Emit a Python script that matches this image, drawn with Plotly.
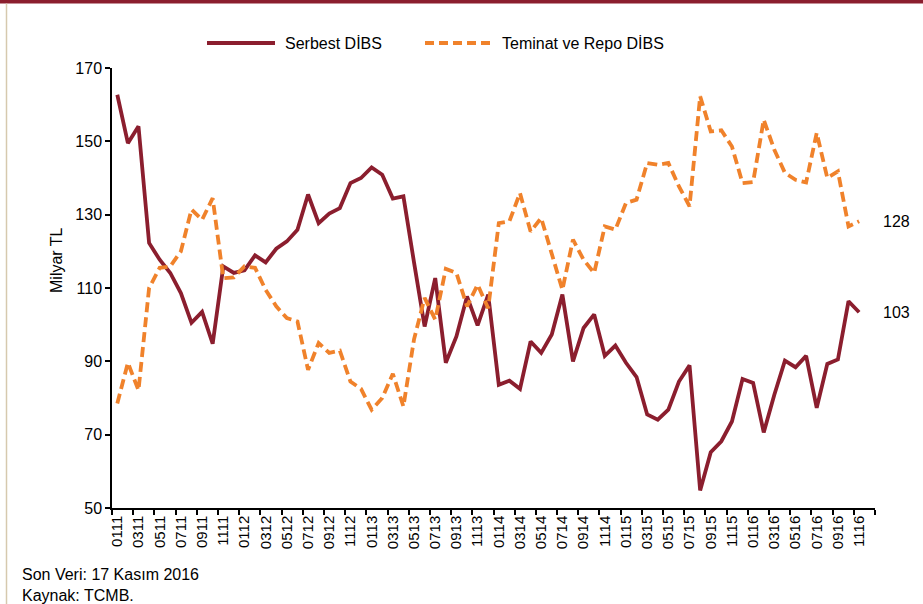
import plotly.graph_objects as go

# ---- data ----
serbest = [162.7, 149.5, 154.1, 122.3, 117.7, 114.1, 108.6, 100.5, 103.5, 94.8,
           115.9, 114.1, 114.8, 118.9, 117.0, 120.7, 122.7, 125.9, 135.5, 127.7,
           130.3, 131.8, 138.6, 140.0, 142.9, 140.9, 134.4, 135.0, 117.0, 99.5,
           112.7, 89.6, 96.8, 107.7, 99.8, 108.2, 83.6, 84.7, 82.5, 95.4,
           92.3, 97.3, 108.2, 90.0, 99.1, 102.8, 91.5, 94.3, 89.6, 85.7,
           75.5, 74.1, 76.8, 84.5, 88.9, 54.8, 65.2, 68.2, 73.6, 85.2,
           84.1, 70.6, 80.9, 90.2, 88.4, 91.5, 77.3, 89.3, 90.5, 106.4,
           103.4]
teminat = [78.5, 89.6, 82.1, 110.0, 115.5, 115.9, 120.0, 131.4, 128.6, 134.5,
           112.7, 112.9, 115.9, 115.5, 109.5, 105.0, 101.8, 100.9, 87.7, 95.0,
           92.3, 92.9, 84.5, 82.5, 76.8, 80.0, 86.6, 77.7, 96.0, 107.3,
           101.4, 115.2, 114.1, 105.0, 110.9, 104.5, 127.7, 128.2, 135.9, 125.4,
           129.1, 119.5, 109.5, 123.2, 117.7, 114.1, 126.8, 125.9, 133.2, 134.1,
           144.1, 143.6, 144.1, 137.7, 132.3, 162.3, 152.7, 153.0, 148.6, 138.6,
           138.9, 155.9, 147.7, 141.4, 139.5, 138.8, 152.3, 140.0, 141.8, 126.8,
           128.2]
tick_labels = ["0111", "0311", "0511", "0711", "0911", "1111",
               "0112", "0312", "0512", "0712", "0912", "1112",
               "0113", "0313", "0513", "0713", "0913", "1113",
               "0114", "0314", "0514", "0714", "0914", "1114",
               "0115", "0315", "0515", "0715", "0915", "1115",
               "0116", "0316", "0516", "0716", "0916", "1116"]
y_ticks = [50, 70, 90, 110, 130, 150, 170]
series_names = ["Serbest DİBS", "Teminat ve Repo DİBS"]

RED = "#8B1E2E"
ORANGE = "#F0822B"
FONT = "Liberation Sans, Arial, sans-serif"

x = list(range(len(serbest)))

fig = go.Figure()
fig.add_trace(go.Scatter(x=x, y=serbest, mode="lines", name=series_names[0],
                         line=dict(color=RED, width=3.8), showlegend=False))
fig.add_trace(go.Scatter(x=x, y=teminat, mode="lines", name=series_names[1],
                         line=dict(color=ORANGE, width=3.8, dash="10px,5px"),
                         showlegend=False))

W, H = 923, 604
L, R, T, B = 112, 48, 68, 96
pw, ph = W - L - R, H - T - B


def px(xp):
    return (xp - L) / pw


def py(yp):
    return (H - B - yp) / ph


shapes = [
    # top band
    dict(type="rect", xref="paper", yref="paper", x0=px(0), x1=px(W),
         y0=py(3.5), y1=py(0), fillcolor=RED, line=dict(width=0), layer="above"),
    # left border
    dict(type="line", xref="paper", yref="paper", x0=px(6.5), x1=px(6.5),
         y0=py(3.5), y1=py(H), line=dict(color="#D6C9AE", width=1.5)),
    # legend symbols
    dict(type="line", xref="paper", yref="paper", x0=px(207), x1=px(275),
         y0=py(43), y1=py(43), line=dict(color=RED, width=3.8)),
    dict(type="line", xref="paper", yref="paper", x0=px(425), x1=px(492),
         y0=py(43), y1=py(43), line=dict(color=ORANGE, width=3.8, dash="9px,5px")),
]

annotations = [
    dict(x=px(283), y=py(43), xref="paper", yref="paper", text=series_names[0],
         showarrow=False, xanchor="left", yanchor="middle",
         font=dict(size=16, color="#000", family=FONT)),
    dict(x=px(500), y=py(43), xref="paper", yref="paper", text=series_names[1],
         showarrow=False, xanchor="left", yanchor="middle",
         font=dict(size=16, color="#000", family=FONT)),
    dict(x=px(56), y=py(260), xref="paper", yref="paper", text="Milyar TL",
         showarrow=False, textangle=-90, xanchor="center", yanchor="middle",
         font=dict(size=16, color="#000", family=FONT)),
    dict(x=x[-1], y=teminat[-1], xref="x", yref="y", text=f"{round(teminat[-1])}",
         showarrow=False, xanchor="left", yanchor="middle", xshift=22,
         font=dict(size=16, color="#000", family=FONT)),
    dict(x=x[-1], y=serbest[-1], xref="x", yref="y", text=f"{round(serbest[-1])}",
         showarrow=False, xanchor="left", yanchor="middle", xshift=22,
         font=dict(size=16, color="#000", family=FONT)),
    dict(x=px(20), y=py(574), xref="paper", yref="paper",
         text="Son Veri: 17 Kasım 2016", showarrow=False,
         xanchor="left", yanchor="middle",
         font=dict(size=16, color="#000", family=FONT)),
    dict(x=px(20), y=py(595), xref="paper", yref="paper",
         text="Kaynak: TCMB.", showarrow=False,
         xanchor="left", yanchor="middle",
         font=dict(size=16, color="#000", family=FONT)),
]

fig.update_layout(
    width=W, height=H,
    margin=dict(l=L, r=R, t=T, b=B, pad=0),
    paper_bgcolor="white", plot_bgcolor="white",
    font=dict(family=FONT, color="#000"),
    showlegend=False,
    shapes=shapes,
    annotations=annotations,
    xaxis=dict(
        range=[-0.5, len(serbest) + 0.5],
        tickmode="array",
        tickvals=x[::2],
        ticktext=tick_labels,
        tickangle=-90,
        ticks="",
        tickfont=dict(size=15, family=FONT, color="#000"),
        showgrid=False, zeroline=False,
        showline=True, linecolor="#000", linewidth=1.5,
        minor=dict(tickmode="linear", tick0=-0.5, dtick=2, ticks="outside",
                   ticklen=5, tickwidth=1.5, tickcolor="#000", showgrid=False),
        fixedrange=True,
    ),
    yaxis=dict(
        range=[50, 170],
        tickmode="array",
        tickvals=y_ticks,
        ticks="outside", ticklen=5, tickwidth=1.5, tickcolor="#000",
        tickfont=dict(size=16, family=FONT, color="#000"),
        showgrid=False, zeroline=False,
        showline=True, linecolor="#000", linewidth=1.5,
        fixedrange=True,
    ),
)

fig.write_html(
    "out.html",
    config={"displayModeBar": False},
    post_script="document.body.style.margin='0';document.body.style.overflow='hidden';",
)
